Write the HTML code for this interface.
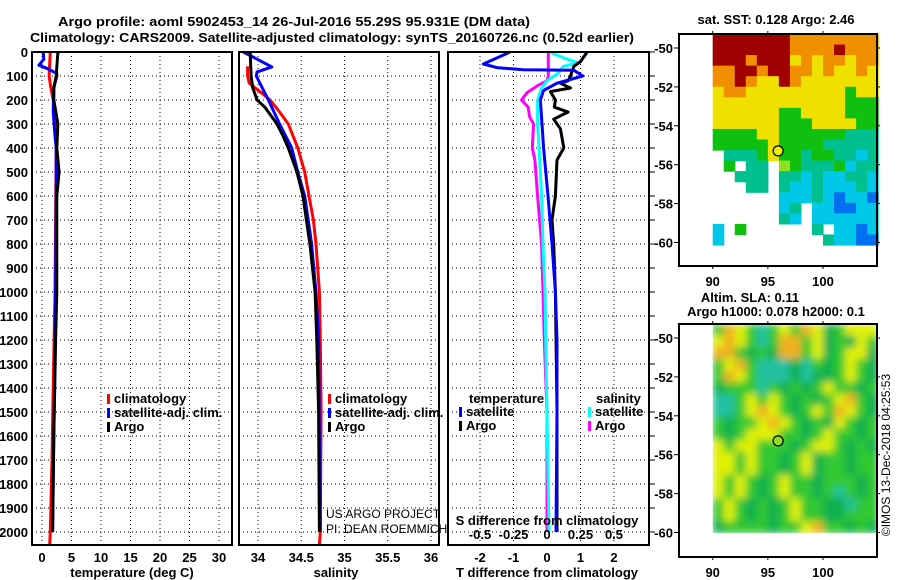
<!DOCTYPE html>
<html><head><meta charset="utf-8"><style>
html,body{margin:0;padding:0;background:#fff;}
svg{display:block;font-family:"Liberation Sans",sans-serif;}
.b{font-weight:bold;font-size:13px;}
</style></head><body>
<svg id="fig" width="900" height="580" viewBox="0 0 900 580" xmlns="http://www.w3.org/2000/svg">
<defs>
<filter id="blur" x="-5%" y="-5%" width="110%" height="110%"><feGaussianBlur stdDeviation="4"/></filter>
<clipPath id="slaclip"><rect x="712.7" y="324" width="164.3" height="209"/></clipPath>
</defs>
<g id="titles">
<text class="b" x="294" y="26" text-anchor="middle" font-size="14" textLength="472" lengthAdjust="spacingAndGlyphs">Argo profile: aoml 5902453_14 26-Jul-2016 55.29S 95.931E (DM data)</text>
<text class="b" x="332" y="42" text-anchor="middle" font-size="14" textLength="604" lengthAdjust="spacingAndGlyphs">Climatology: CARS2009. Satellite-adjusted climatology: synTS_20160726.nc (0.52d earlier)</text>
</g>
<g id="plots"></g>
</svg>
<script>
// ---- data ----
const tempArgoDepth = [0,100,150,200,300,400,500,600,1000,1200,1600,2000];
const tempArgo      = [2.7,2.4,2.0,2.0,2.7,2.5,2.9,2.5,2.5,2.3,2.0,1.8];
const tempSatDepth  = [0,30,55,70,90,100,150,250,350,400,600,1000,1300,1600,2000];
const tempSat       = [0.2,0.3,-0.5,1.0,2.5,2.5,2.0,1.9,2.2,2.4,2.4,2.3,2.2,2.0,1.8];
const tempClimDepth = [0,100,150,200,300,400,1000,1400,1700,2000,2054];
const tempClim      = [1.4,1.2,1.5,1.9,2.5,2.4,2.2,1.9,1.7,1.4,1.3];

const salSatDepth  = [0,62,83,100,150,200,300,400,500,600,700,800,1000,1200,1600,2000];
const salSat       = [33.83,34.16,33.99,33.98,34.05,34.12,34.25,34.39,34.46,34.54,34.58,34.62,34.67,34.70,34.71,34.72];
const salClimDepth = [60,100,130,150,200,250,300,400,500,600,700,800,1000,1200,1500,2000,2054];
const salClim      = [33.88,33.88,33.9,33.97,34.14,34.25,34.35,34.46,34.54,34.59,34.64,34.67,34.71,34.72,34.73,34.72,34.71];
const salArgoDepth = [0,100,150,200,230,300,350,400,500,600,700,800,1000,1200,1500,2000];
const salArgo      = [33.91,33.92,33.94,33.99,34.08,34.22,34.29,34.35,34.45,34.52,34.56,34.60,34.66,34.68,34.70,34.71];

const dTSatDepth  = [0,50,65,74,76,100,130,160,200,300,400,600,800,1000,1200,1500,2000];
const dTSat       = [-1.1,-1.9,-1.5,-0.7,0.8,1.07,0.3,-0.1,-0.2,-0.15,-0.1,0.03,0.15,0.25,0.3,0.3,0.27];
const dTArgoDepth = [0,40,60,100,120,130,150,165,200,230,250,280,320,400,450,600,700,800,1000,1500,2000];
const dTArgo      = [1.2,1.0,0.8,0.7,0.63,0.4,0.7,0.1,0.25,0.22,0.63,0.2,0.4,0.5,0.3,0.25,0.15,0.2,0.25,0.3,0.3];
const dSSatDepth  = [0,30,45,60,90,120,150,200,300,400,600,800,1000,1200,1500,2000];
const dSSat       = [0.02,0.15,0.23,0.12,0.08,0.0,-0.04,-0.07,-0.07,-0.06,-0.04,-0.03,-0.015,-0.01,0.0,0.015];
const dSArgoDepth = [0,100,120,140,170,200,230,270,300,400,450,600,800,1000,1200,1500,2000];
const dSArgo      = [0.01,0.01,0.0,-0.07,-0.15,-0.19,-0.14,-0.13,-0.1,-0.11,-0.09,-0.07,-0.04,-0.03,-0.02,0.0,0.0];

const depthTicks = [0,100,200,300,400,500,600,700,800,900,1000,1100,1200,1300,1400,1500,1600,1700,1800,1900,2000];
const tempTicks = [0,5,10,15,20,25,30];
const salTicks = [34,34.5,35,35.5,36];
const salTickLabels = ["34","34.5","35","35.5","36"];
const dTTicks = [-2,-1,0,1,2];
const dSTicks = [-0.5,-0.25,0,0.25,0.5];
const dSTickLabels = ["-0.5","-0.25","0","0.25","0.5"];
const latTicks = [-50,-52,-54,-56,-58,-60];
const lonTicks = [90,95,100];

const sstRows = [
"RRRRRRROOOOOOOO","RRRRRRROOOOROOO","RRRORRRYOYOOYOO","OORRORROOYOYYOY","OOROYYROYYYYYYY","YOOYYYYYYYYYGYY","YYYYYYYYYYYYGGG","YYYYYYGGYYYYGGG","YYYYYYGGGYYYYGG",
"GGGGYYGGGGGGTTT","GGGGGYGGGGTTTTT",".TTTGYGGTGGTTCT",".G.TT.LGTTTGCTT","..TTT.TTCTCCTTC","...TT.TCCTCCCTC","......CCCTCBCCB","......CT.CCBBCC","......TC.CCCCCC","C.G......T.CCBC","C.........TCCBB"];
const slaRows = [
"GOYGTGYGOYDGYYY","YOYGTGOOGYDGDYG","OOGDGDOOGYDGYYD","GYOGTTTDTGDGYGD","GOYGTTTDTDDGYGD","DGGGTGDGDGYGGDG","TTGYGYGDGDGYOGD","TTGYOYGDGYGOYGD",
"GDGGYOYGDGDYGDG","GDGYYYGGDGYGGDG","YGYYGGGDGYYGDGD","YYGYGGDGYDGGDGG","YYGYGGDGYDGGDGG","YGYGDGYGGDGGGDG","YGYGDGYGGDGTGDG","GYGDGDGYGGDDTGG","GYGDGDGYGGDDGGG","DGGGGDGGYOGGDGD"];

// ---- geometry ----
const NS="http://www.w3.org/2000/svg";
const root=document.getElementById('plots');
const Y0=52, YS=0.24, TOP=52, BOT=545;
const yD=d=>Y0+d*YS;
const xT=v=>42+v*5.9;
const xS=v=>258+(v-34)*86.5;
const xDT=v=>547+v*33.5;
const xDS=v=>547+v*134;
function el(tag,attrs,parent){const e=document.createElementNS(NS,tag);for(const k in attrs)e.setAttribute(k,attrs[k]);(parent||root).appendChild(e);return e;}
function txt(x,y,s,attrs,parent){const t=el('text',Object.assign({x:x,y:y},attrs||{}),parent);t.textContent=s;return t;}

function panel(name){
  const g=el('g',{});
  
  
  return g;
}
function grid(g,L,R,xs,xf){
  depthTicks.forEach(d=>{const y=yD(d);if(d>0)el('line',{x1:L,x2:R,y1:y,y2:y,stroke:'#000','stroke-width':1,'stroke-dasharray':'1,3'},g);});
  xs.forEach(v=>{const x=xf(v);el('line',{x1:x,x2:x,y1:TOP,y2:BOT,stroke:'#000','stroke-width':1,'stroke-dasharray':'1,3'},g);});
}
function frame(g,L,R){el('rect',{x:L,y:TOP,width:R-L,height:BOT-TOP,fill:'none',stroke:'#000','stroke-width':2},g);}
function line(g,ds,vs,xf,color,name){
  const p=ds.map((d,i)=>xf(vs[i]).toFixed(1)+','+yD(d).toFixed(1)).join(' ');
  const l=el('polyline',{points:p,fill:'none',stroke:color,'stroke-width':3,'stroke-linejoin':'round'},g);
  
  
}
function legend(g,x,y,items){
  items.forEach((it,i)=>{
    el('rect',{x:x,y:y+i*14-9,width:3,height:10,fill:it[0]},g);
    const t=txt(x+7,y+i*14,it[1],{class:'b'},g);
    
    
  });
}

// Panel 1 temperature
const p1=panel('temperature-panel');
grid(p1,32,232,tempTicks,xT);
line(p1,tempClimDepth,tempClim,xT,'#ff0000','temp-climatology-line');
line(p1,tempSatDepth,tempSat,xT,'#0000ff','temp-satellite-line');
line(p1,tempArgoDepth,tempArgo,xT,'#000000','temp-argo-line');
frame(p1,32,232);
depthTicks.forEach(d=>{const t=txt(28,yD(d)+5,String(d),{class:'b','text-anchor':'end'},p1);});
tempTicks.forEach(v=>{const t=txt(xT(v),562,String(v),{class:'b','text-anchor':'middle'},p1);});
txt(132,577,'temperature (deg C)',{class:'b','text-anchor':'middle'},p1);
legend(p1,107,403,[['#ff0000','climatology'],['#0000ff','satellite-adj. clim.'],['#000','Argo']]);

// Panel 2 salinity
const p2=panel('salinity-panel');
grid(p2,239,439,salTicks,xS);
line(p2,salClimDepth,salClim,xS,'#ff0000','sal-climatology-line');
line(p2,salSatDepth,salSat,xS,'#0000ff','sal-satellite-line');
line(p2,salArgoDepth,salArgo,xS,'#000000','sal-argo-line');
frame(p2,239,439);
salTicks.forEach((v,i)=>{const t=txt(xS(v),562,salTickLabels[i],{class:'b','text-anchor':'middle'},p2);});
txt(336,577,'salinity',{class:'b','text-anchor':'middle'},p2);
legend(p2,328,403,[['#ff0000','climatology'],['#0000ff','satellite-adj. clim.'],['#000','Argo']]);
txt(326,518,'US ARGO PROJECT',{'font-size':'12'},p2);
txt(326,533,'PI: DEAN ROEMMICH',{'font-size':'12'},p2);

// Panel 3 differences
const p3=panel('difference-panel');
grid(p3,448,649,[-2,-1,1,2],xDT);
line(p3,dSArgoDepth,dSArgo,xDS,'#ff00ff','sal-diff-argo-line');
line(p3,dSSatDepth,dSSat,xDS,'#00ffff','sal-diff-satellite-line');
line(p3,dTArgoDepth,dTArgo,xDT,'#000000','temp-diff-argo-line');
line(p3,dTSatDepth,dTSat,xDT,'#0000ff','temp-diff-satellite-line');
frame(p3,448,649);
depthTicks.forEach(d=>el('line',{x1:649,x2:655,y1:yD(d),y2:yD(d),stroke:'#000','stroke-width':1},p3));
dTTicks.forEach(v=>{const t=txt(xDT(v),562,String(v),{class:'b','text-anchor':'middle'},p3);});
dSTicks.forEach((v,i)=>{const t=txt(xDS(v),539,dSTickLabels[i],{class:'b','text-anchor':'middle'},p3);});
txt(547,525,'S difference from climatology',{class:'b','text-anchor':'middle'},p3);
txt(547,577,'T difference from climatology',{class:'b','text-anchor':'middle'},p3);
txt(469,403,'temperature',{class:'b'},p3);
txt(596,403,'salinity',{class:'b'},p3);
legend(p3,459,416,[['#0000ff','satellite'],['#000','Argo']]);
legend(p3,588,416,[['#00ffff','satellite'],['#ff00ff','Argo']]);

// Maps
const sstCol={R:'#a00000',O:'#f09000',Y:'#f0e000',G:'#10c010',T:'#00c090',C:'#00c8e8',B:'#0070f0',L:'#90e020'};
const slaCol={Y:'#e0f000',O:'#f0b020',G:'#30c830',D:'#10b050',T:'#20c0a0'};
function map(name,top,bot,lat0,rows,cols,dataTop,dataBot,smooth){
  const g=panel(name);
  const L=679,R=877;
  const xL=v=>712.7+(v-90)*11.03;
  const yl=v=>lat0+(-50-v)*19.45;
  const rh=(dataBot-dataTop)/rows.length;
  const cg=el('g',smooth?{'clip-path':'url(#slaclip)'}:{},g);
  const inner=el('g',smooth?{filter:'url(#blur)'}:{},cg);
  if(smooth) el('rect',{x:712.7,y:dataTop,width:164.3,height:dataBot-dataTop,fill:'#30c830'},inner);
  rows.forEach((r,i)=>{[...r].forEach((c,j)=>{if(c==='.')return;
    el('rect',{x:xL(90+j),y:dataTop+i*rh,width:11.6,height:rh+0.6,fill:cols[c]},inner);});});
  el('rect',{x:L,y:top,width:R-L,height:bot-top,fill:'none',stroke:'#000','stroke-width':2},g);
  latTicks.forEach(v=>{const y=yl(v);el('line',{x1:L-5,x2:L,y1:y,y2:y,stroke:'#000'},g);el('line',{x1:R,x2:R+3,y1:y,y2:y,stroke:'#000'},g);
    txt(L-6,y+5,String(v),{class:'b','text-anchor':'end'},g);});
  lonTicks.forEach(v=>{const x=xL(v);el('line',{x1:x,x2:x,y1:bot,y2:bot+3,stroke:'#000'},g);el('line',{x1:x,x2:x,y1:top,y2:top-3,stroke:'#000'},g);
    txt(x,bot+20,String(v),{class:'b','text-anchor':'middle'},g);});
  const m=el('circle',{cx:xL(95.931),cy:yl(-55.29),r:5,fill:smooth?'#90e020':'#e8f000',stroke:'#000','stroke-width':1.2},g);
  
  
}
map('sst-map',34,266,48,sstRows,sstCol,34,245,false);
map('sla-map',324,557,338,slaRows,slaCol,324,533,true);
txt(776,24,'sat. SST: 0.128 Argo: 2.46',{class:'b','text-anchor':'middle'});
txt(750,302,'Altim. SLA: 0.11',{class:'b','text-anchor':'middle'});
txt(776,316,'Argo h1000: 0.078 h2000: 0.1',{class:'b','text-anchor':'middle'});
const cr=txt(0,0,'©IMOS 13-Dec-2018 04:25:53',{'font-size':'12','text-anchor':'middle',transform:'translate(890,455) rotate(-90)'});


</script>
</body></html>
